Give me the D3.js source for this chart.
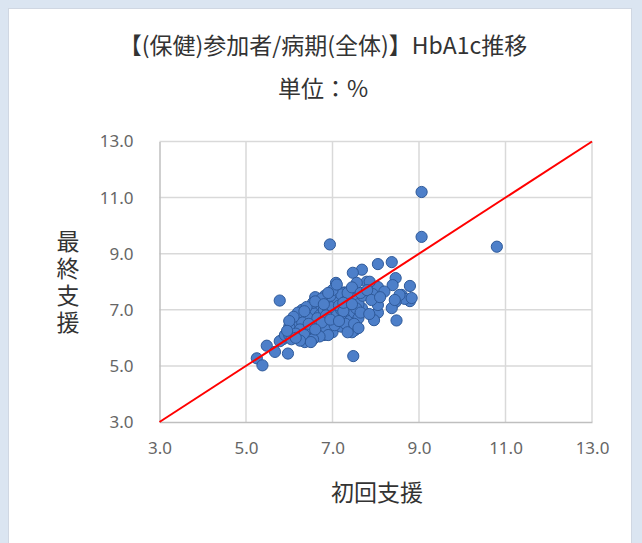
<!DOCTYPE html>
<html>
<head>
<meta charset="utf-8">
<script src="https://cdn.jsdelivr.net/npm/d3@7"></script>
<style>
  html, body { margin: 0; padding: 0; background: #dbe5f1; }
  svg { display: block; }
</style>
</head>
<body>
<div id="chart"></div>
<script>
//____________________________DATA________________________//
const titleText = "【(保健)参加者/病期(全体)】HbA1c推移"
const unitText = "単位：%"
const xTitle = "初回支援"
const yTitle = "最終支援"
const ticks = [3, 5, 7, 9, 11, 13]

// 初回支援 (x) / 最終支援 (y)
const initial = [
  10.8, 9.06, 9.06, 6.94, 5.78, 7.48, 5.25, 5.38, 5.48, 5.67, 5.97,
  8.05, 8.37, 8.46, 8.39, 8.79, 8.6, 8.79, 8.67, 8.46, 8.37, 8.48, 8.05, 7.96, 8.05, 7.93,
  8.05, 7.79, 7.68, 7.47, 7.56, 7.08, 7.28, 7.47, 7.68, 7.47, 7.52, 7.4, 7.45, 8.55, 8.83, 8.44, 7.86, 7.24,
  5.85, 5.78, 6.06, 6.36, 6.17, 5.9, 6.3, 6.6, 6.82,
  6.0, 6.1, 6.2, 6.2, 6.3, 6.3, 6.4, 6.4, 6.5, 6.5, 6.5, 6.3, 6.2, 6.1, 6.0, 6.45,
  6.6, 6.6, 6.6, 6.7, 6.7, 6.7, 6.8, 6.8, 6.8, 6.9, 6.9, 6.9, 7.0, 7.0, 7.0,
  7.1, 7.1, 7.1, 7.2, 7.2, 7.2, 7.3, 7.3, 7.4, 7.4, 7.5, 7.5, 7.6, 7.6, 7.7, 7.3,
  6.95, 6.75, 6.55, 6.4, 6.3, 6.85, 7.05, 6.65, 6.85, 7.15, 7.35, 7.45, 6.9, 6.7,
  6.5, 6.25, 6.15, 6.05, 6.35, 6.55, 6.75, 6.95, 7.25, 7.55, 7.65, 7.0, 6.6, 6.45,
  6.2, 6.1, 7.35, 7.5, 7.1, 7.25, 6.8, 6.6, 6.35, 7.45, 7.65, 6.0, 6.9, 7.15,
  7.8, 7.9, 8.2, 8.1, 7.85, 7.6, 6.25, 6.5, 6.15, 5.95
]
const final = [
  9.25, 11.2, 9.6, 9.33, 7.33, 5.35, 5.27, 5.02, 5.72, 5.5, 5.44,
  8.63, 8.7, 8.13, 7.88, 7.85, 7.53, 7.31, 7.39, 7.28, 7.06, 6.62, 6.9, 6.63, 7.81, 7.56,
  7.17, 8.0, 8.43, 8.32, 7.96, 7.96, 7.62, 7.53, 7.06, 6.92, 6.28, 6.53, 6.2, 7.53, 7.42, 7.35, 8.0, 7.6,
  5.95, 5.88, 6.17, 5.85, 6.28, 6.1, 7.0, 7.45, 7.5,
  6.1, 6.3, 6.0, 6.5, 6.2, 6.7, 6.4, 6.0, 6.6, 6.2, 6.9, 6.85, 6.75, 6.55, 6.4, 6.8,
  6.5, 6.1, 7.0, 6.3, 6.8, 7.2, 6.6, 7.0, 6.1, 6.4, 6.9, 7.3, 6.6, 7.1, 6.2,
  6.8, 7.4, 6.5, 7.0, 7.55, 6.4, 6.8, 7.3, 7.1, 6.6, 7.4, 6.9, 7.2, 6.7, 7.5, 6.5,
  7.5, 7.4, 7.25, 7.1, 6.55, 6.35, 6.45, 6.7, 6.8, 7.15, 7.6, 7.8, 6.1, 6.05,
  6.35, 6.3, 6.15, 5.95, 6.1, 5.95, 6.55, 6.65, 6.95, 7.05, 7.6, 7.7, 7.3, 6.5,
  6.9, 6.75, 6.2, 6.5, 7.9, 7.25, 7.2, 6.3, 6.95, 7.2, 6.9, 6.6, 7.6, 6.6,
  7.7, 7.35, 7.65, 7.45, 6.85, 6.35, 5.9, 5.85, 6.0, 6.25
]

//____________________________LAYOUT________________________//
const W = 642, H = 543
const svg = d3.select('#chart').append('svg')
    .attr('width', W)
    .attr('height', H)

svg.append('rect')
    .attr('x', 8.5).attr('y', 8.5)
    .attr('width', 623).attr('height', 545)
    .attr('fill', 'white')
    .attr('stroke', '#d0d7e2')

const x = d3.scaleLinear().domain([3, 13]).range([159.5, 592])
const y = d3.scaleLinear().domain([3, 13]).range([422, 141.5])

const cjk = '"Noto Sans CJK JP", "Noto Sans", sans-serif'

// TITLE
svg.append('text')
    .attr('x', 323).attr('y', 54)
    .attr('text-anchor', 'middle')
    .style('font-family', cjk)
    .style('font-size', '23px')
    .attr('fill', '#333')
    .text(titleText)

svg.append('text')
    .attr('x', 323).attr('y', 97)
    .attr('text-anchor', 'middle')
    .style('font-family', cjk)
    .style('font-size', '23px')
    .attr('fill', '#333')
    .text(unitText)

//_______GRID____//
const grid = svg.append('g').attr('class', 'grid')
grid.selectAll('line.v')
    .data(ticks.slice(1))
    .join('line')
    .attr('class', 'v')
    .attr('x1', d => x(d)).attr('x2', d => x(d))
    .attr('y1', y(13)).attr('y2', y(3))
    .attr('stroke', '#d9d9d9')
    .attr('stroke-width', 1.5)

grid.selectAll('line.h')
    .data(ticks.slice(1))
    .join('line')
    .attr('class', 'h')
    .attr('x1', x(3)).attr('x2', x(13))
    .attr('y1', d => y(d)).attr('y2', d => y(d))
    .attr('stroke', '#d9d9d9')
    .attr('stroke-width', 1.5)

//_______AXES____//
const xAxis = svg.append('g')
    .attr('transform', `translate(0,${y(3)})`)
    .call(d3.axisBottom(x).tickValues(ticks).tickSize(0).tickPadding(20).tickFormat(d3.format('.1f')))
const yAxis = svg.append('g')
    .attr('transform', `translate(${x(3)},0)`)
    .call(d3.axisLeft(y).tickValues(ticks).tickSize(0).tickPadding(26).tickFormat(d3.format('.1f')))

;[xAxis, yAxis].forEach(a => {
    a.select('.domain').attr('stroke', '#bfbfbf').attr('stroke-width', 1.5)
    a.selectAll('text')
        .style('font-family', '"Noto Sans", sans-serif')
        .style('font-size', '17px')
        .attr('fill', '#666')
})

// AXIS TITLES
svg.append('text')
    .attr('x', 377).attr('y', 501)
    .attr('text-anchor', 'middle')
    .style('font-family', cjk)
    .style('font-size', '23px')
    .attr('fill', '#333')
    .text(xTitle)

svg.append('text')
    .attr('x', 68).attr('y', 284)
    .attr('text-anchor', 'middle')
    .style('font-family', cjk)
    .style('font-size', '23px')
    .style('writing-mode', 'vertical-rl')
    .style('text-orientation', 'upright')
    .style('letter-spacing', '4px')
    .attr('fill', '#333')
    .text(yTitle)

//_______POINTS____//
const points = initial.map((v, i) => ({ x: v, y: final[i] }))
svg.append('g')
    .selectAll('circle')
    .data(points)
    .join('circle')
    .attr('cx', d => x(d.x))
    .attr('cy', d => y(d.y))
    .attr('r', 5.6)
    .attr('fill', '#4d7fc9')
    .attr('stroke', '#2f5a9a')
    .attr('stroke-width', 1)

//_______DIAGONAL____//
svg.append('line')
    .attr('x1', x(3)).attr('y1', y(3))
    .attr('x2', x(13)).attr('y2', y(13))
    .attr('stroke', '#ff0000')
    .attr('stroke-width', 2)
</script>
</body>
</html>
